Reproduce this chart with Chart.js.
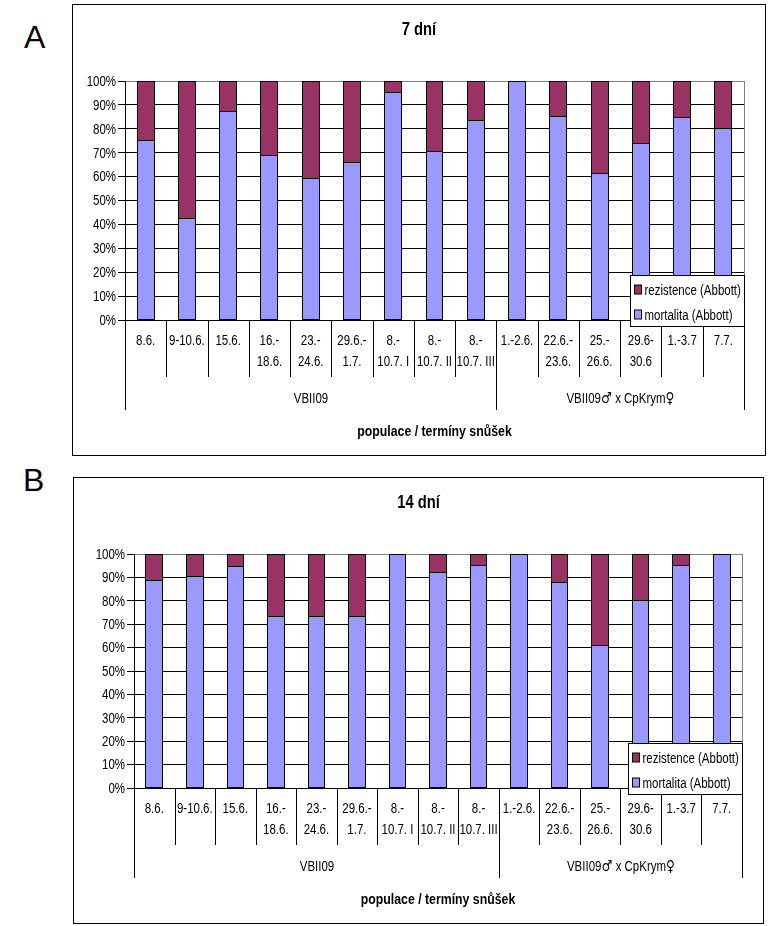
<!DOCTYPE html>
<html>
<head>
<meta charset="utf-8">
<script src="https://cdn.jsdelivr.net/npm/chart.js@4.4.1/dist/chart.umd.min.js"></script>
<style>
  body { margin: 0; background: #fff; width: 777px; height: 926px; position: relative; overflow: hidden; }
  .panel { position: absolute; border: 1px solid #000; background: #fff; }
  .panel canvas { display: block; }
  .letter { position: absolute; font: 32px 'Liberation Sans', Arial, sans-serif; line-height: 1; color: #000; }
</style>
</head>
<body>
<div class="letter" style="left:24px; top:21px">A</div>
<div class="panel" style="left:72px; top:4px; width:692px; height:450px"><canvas id="chart7" width="692" height="450"></canvas></div>
<div class="letter" style="left:23px; top:464px">B</div>
<div class="panel" style="left:73px; top:477px; width:689px; height:445px"><canvas id="chart14" width="689" height="445"></canvas></div>

<script>
// termíny snůšek (two-line labels as arrays)
const categories = [
    ['8.6.'], ['9-10.6.'], ['15.6.'], ['16.-', '18.6.'], ['23.-', '24.6.'],
    ['29.6.-', '1.7.'], ['8.-', '10.7. I'], ['8.-', '10.7. II'], ['8.-', '10.7. III'],
    ['1.-2.6.'], ['22.6.-', '23.6.'], ['25.-', '26.6.'], ['29.6-', '30.6'], ['1.-3.7'], ['7.7.']
];
const groups = ['VBII09', 'VBII09\u2642 x CpKrym\u2640'];
const groupSizes = [9, 6];

// 7 dní
const mortalita7 = [75, 42.5, 87.3, 69, 59, 66, 95.3, 70.5, 83.5, 100, 85.2, 61.3, 74, 84.8, 80.2];
const rezistence7 = [25, 57.5, 12.7, 31, 41, 34, 4.7, 29.5, 16.5, 0, 14.8, 38.7, 26, 15.2, 19.8];

// 14 dní
const mortalita14 = [88.5, 90.3, 94.6, 73.5, 73.1, 73.5, 100, 92.3, 95.2, 100, 88, 60.7, 80, 94.9, 100];
const rezistence14 = [11.5, 9.7, 5.4, 26.5, 26.9, 26.5, 0, 7.7, 4.8, 0, 12, 39.3, 20, 5.1, 0];

const yTicks = [0, 10, 20, 30, 40, 50, 60, 70, 80, 90, 100];

const FONT = "'Liberation Sans', Arial, sans-serif";
const SYMBOL_FONT = "15px 'DejaVu Sans', sans-serif";
const NARROW = 0.82; // the original uses a condensed Arial look
const BLUE = '#9999ff';
const MAROON = '#993366';

Chart.defaults.font.family = FONT;
Chart.defaults.color = '#000';

function narrowText(ctx, text, x, y) {
    ctx.save();
    ctx.translate(x, y);
    ctx.scale(NARROW, 1);
    ctx.fillText(text, 0, 0);
    ctx.restore();
}

// centred text where ♂/♀ are taken from DejaVu (bigger glyphs)
function mixedText(ctx, text, cx, y) {
    const base = ctx.font;
    const runs = text.split(/([\u2640\u2642])/).filter(s => s).map(s => ({
        text: s, font: /[\u2640\u2642]/.test(s) ? SYMBOL_FONT : base
    }));
    let total = 0;
    runs.forEach(r => { ctx.font = r.font; r.w = ctx.measureText(r.text).width * NARROW; total += r.w; });
    ctx.save();
    ctx.textAlign = 'left';
    let x = cx - total / 2;
    runs.forEach(r => { ctx.font = r.font; narrowText(ctx, r.text, x, y); x += r.w; });
    ctx.restore();
    ctx.font = base;
}

// Excel-like plot border, bar outlines, category table, title and legend box
const excelPlugin = {
    id: 'excelTable',
    beforeDatasetsDraw(chart) {
        const { ctx, chartArea: a } = chart;
        ctx.save();
        ctx.strokeStyle = '#808080';
        ctx.lineWidth = 1;
        ctx.beginPath();
        ctx.moveTo(Math.round(a.right) + 0.5, a.top);
        ctx.lineTo(Math.round(a.right) + 0.5, a.bottom);
        ctx.stroke();
        ctx.restore();
    },
    afterDatasetsDraw(chart) {
        const ctx = chart.ctx;
        ctx.save();
        ctx.strokeStyle = '#000';
        ctx.lineWidth = 1;
        chart.data.datasets.forEach((ds, i) => {
            chart.getDatasetMeta(i).data.forEach(bar => {
                const p = bar.getProps(['x', 'y', 'base', 'width'], true);
                const top = Math.min(p.y, p.base), bottom = Math.max(p.y, p.base);
                if (bottom - top < 0.5) return;
                const l = Math.floor(p.x - p.width / 2), r = Math.ceil(p.x + p.width / 2) - 1;
                const t = Math.floor(top), b = Math.ceil(bottom) - 1;
                ctx.strokeRect(l + 0.5, t + 0.5, r - l, b - t);
            });
        });
        ctx.restore();
    },
    afterDraw(chart, args, opts) {
        const { ctx, chartArea: a } = chart;
        const x = chart.scales.x, y = chart.scales.y;
        const n = chart.data.labels.length;
        const half = (x.getPixelForValue(1) - x.getPixelForValue(0)) / 2;
        const edge = i => Math.round(i < n ? x.getPixelForValue(i) - half : x.getPixelForValue(n - 1) + half) + 0.5;
        const base = Math.round(a.bottom);

        ctx.save();
        ctx.fillStyle = '#000';
        ctx.strokeStyle = '#000';
        ctx.lineWidth = 1;
        ctx.textBaseline = 'middle';

        // y tick labels
        ctx.textAlign = 'right';
        ctx.font = '14px ' + FONT;
        y.ticks.forEach(t => narrowText(ctx, t.value + '%', a.left - 9, y.getPixelForValue(t.value) + 1));

        ctx.textAlign = 'center';
        // title
        ctx.font = 'bold 18px ' + FONT;
        narrowText(ctx, opts.title, chart.width / 2, 25);

        // dividers
        const longEdges = [0];
        groupSizes.reduce((s, g) => { longEdges.push(s + g); return s + g; }, 0);
        ctx.beginPath();
        for (let i = 0; i <= n; i++) {
            const len = longEdges.includes(i) ? 90 : 57;
            ctx.moveTo(edge(i), base);
            ctx.lineTo(edge(i), base + len);
        }
        ctx.stroke();

        // category labels
        ctx.font = '14px ' + FONT;
        chart.data.labels.forEach((lab, i) => {
            const cx = x.getPixelForValue(i);
            lab.forEach((line, k) => narrowText(ctx, line, cx, base + 21 + k * 21));
        });

        // group labels
        let start = 0;
        groups.forEach((g, k) => {
            const end = start + groupSizes[k];
            mixedText(ctx, g, (edge(start) + edge(end)) / 2, base + 79);
            start = end;
        });

        // axis title
        ctx.font = 'bold 15px ' + FONT;
        narrowText(ctx, 'populace / termíny snůšek', (a.left + a.right) / 2, base + 112);

        // legend box
        const lw = 114, lh = 51;
        const lx = Math.round(a.right) - lw + 0.5;
        const ly = base + 6 - lh + 0.5;
        ctx.fillStyle = '#fff';
        ctx.fillRect(lx, ly, lw, lh);
        ctx.strokeRect(lx, ly, lw, lh);
        ctx.textAlign = 'left';
        ctx.font = '14px ' + FONT;
        const items = chart.data.datasets.slice().reverse();
        items.forEach((ds, k) => {
            const cy = Math.round(ly + 14 + k * 25);
            ctx.fillStyle = ds.backgroundColor;
            ctx.fillRect(lx + 4, cy - 5, 7, 9);
            ctx.strokeRect(lx + 4, cy - 5, 7, 9);
            ctx.fillStyle = '#000';
            narrowText(ctx, ds.label, lx + 14, cy + 1);
        });
        ctx.restore();
    }
};

function renderPanel(canvasId, title, mortalita, rezistence, yWidth) {
    const canvas = document.getElementById(canvasId);
    if (!canvas) return;

    return new Chart(canvas.getContext('2d'), {
        type: 'bar',
        data: {
            labels: categories,
            datasets: [{
                label: 'mortalita (Abbott)',
                data: mortalita,
                backgroundColor: BLUE,
                borderWidth: 0
            }, {
                label: 'rezistence (Abbott)',
                data: rezistence,
                backgroundColor: MAROON,
                borderWidth: 0
            }]
        },
        options: {
            responsive: false,
            animation: false,
            devicePixelRatio: 1,
            layout: { padding: { left: 0, top: 76, right: 21, bottom: 135 } },
            datasets: { bar: { barPercentage: 0.41, categoryPercentage: 1, inflateAmount: 0 } },
            plugins: {
                legend: { display: false },
                tooltip: { enabled: false },
                excelTable: { title: title }
            },
            scales: {
                x: { stacked: true, display: false },
                y: {
                    stacked: true,
                    min: 0,
                    max: 100,
                    afterBuildTicks: s => { s.ticks = yTicks.map(v => ({ value: v })); },
                    afterFit: s => { s.width = yWidth; },
                    ticks: { display: false },
                    grid: {
                        color: c => (c.tick && c.tick.value === 100 ? '#808080' : '#000'),
                        tickColor: '#000',
                        tickLength: 7
                    },
                    border: { display: true, color: '#000' }
                }
            }
        },
        plugins: [excelPlugin]
    });
}

renderPanel('chart7', '7 dní', mortalita7, rezistence7, 52);
renderPanel('chart14', '14 dní', mortalita14, rezistence14, 60);
</script>
</body>
</html>
